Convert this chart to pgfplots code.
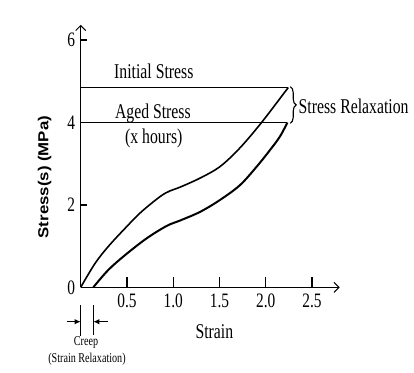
\documentclass[border=0pt]{standalone}
\usepackage{fontspec}
\setmainfont{Liberation Serif}[FakeStretch=0.75]
\newfontfamily\labfont{Liberation Sans}[FakeStretch=1.16]
\usepackage{pgfplots}
\pgfplotsset{compat=1.18}
\usetikzlibrary{arrows.meta,decorations.pathreplacing}

\begin{document}
\begin{tikzpicture}
\begin{axis}[
  x=92.5pt, y=41.2pt,
  xmin=0, xmax=2.8, ymin=0, ymax=6.37,
  axis lines=left,
  clip=false,
  axis line style={line width=1.4pt, -{Straight Barb[length=5pt,width=10pt,line width=1pt]}},
  tick align=inside,
  tick style={line width=1.4pt, black},
  xtick style={/pgfplots/major tick length=10pt},
  ytick style={/pgfplots/major tick length=6pt},
  xtick={0.5,1.0,1.5,2.0,2.5},
  ytick={0,2,4,6},
  /pgf/number format/assume math mode=true,
  xticklabel style={font=\fontsize{20.5}{22}\selectfont, yshift=-3pt,
    /pgf/number format/.cd, fixed, fixed zerofill, precision=1, assume math mode=true},
  yticklabel style={font=\fontsize{20.5}{22}\selectfont, xshift=-2pt},
  xlabel={Strain},
  xlabel style={font=\fontsize{21}{22}\selectfont, at={(axis description cs:0.516,-0.170)}, anchor=center},
  ylabel={Stress(s) (MPa)},
  ylabel style={font=\labfont\bfseries\fontsize{14.5}{16}\selectfont, at={(axis description cs:-0.139,0.42)}, anchor=center},
]
% initial stress curve
\addplot[black, line width=1.6pt, smooth, tension=0.55] coordinates {
(0,0) (0.155,0.58) (0.298,0.99) (0.479,1.43) (0.650,1.82) (0.857,2.20)
(0.965,2.34) (1.073,2.43) (1.290,2.65) (1.506,2.93) (1.720,3.38)
(1.955,4.0) (2.244,4.85)};
% aged curve
\addplot[black, line width=2pt, smooth, tension=0.55] coordinates {
(0.136,0) (0.298,0.42) (0.479,0.78) (0.714,1.19) (0.930,1.49) (1.073,1.62)
(1.290,1.83) (1.506,2.12) (1.722,2.48) (1.903,2.93)
(2.046,3.33) (2.154,3.66) (2.235,4.0)};
% stress levels
\addplot[black, line width=1.1pt] coordinates {(0,4.85) (2.244,4.85)};
\addplot[black, line width=1.1pt] coordinates {(0,4.0) (2.235,4.0)};

\node[font=\fontsize{21}{23}\selectfont] at (axis cs:0.79,5.25) {Initial Stress};
\node[font=\fontsize{21}{23}\selectfont] at (axis cs:0.78,4.22) {Aged Stress};
\node[font=\fontsize{21}{23}\selectfont] at (axis cs:0.79,3.62) {(x hours)};
\draw[black, line width=1.1pt, decorate, decoration={brace, amplitude=6pt}]
  (axis cs:2.265,4.87) -- (axis cs:2.265,3.98);
\node[font=\fontsize{21}{22}\selectfont, anchor=west, inner sep=0pt] at (axis cs:2.355,4.40) {Stress Relaxation};

% creep dimension
\draw[black, line width=0.6pt] (axis cs:0,-0.43) -- (axis cs:0,-1.19);
\draw[black, line width=0.6pt] (axis cs:0.136,-0.43) -- (axis cs:0.136,-1.16);
\draw[black, line width=1.1pt, -{Latex[length=6pt,width=5.5pt]}] (axis cs:-0.151,-0.835) -- (axis cs:0,-0.835);
\draw[black, line width=1.1pt, -{Latex[length=6pt,width=5.5pt]}] (axis cs:0.298,-0.835) -- (axis cs:0.136,-0.835);
\node[font=\fontsize{13.5}{15}\selectfont] at (axis cs:0.057,-1.35) {Creep};
\node[font=\fontsize{13.5}{15}\selectfont] at (axis cs:0.068,-1.74) {(Strain Relaxation)};

\coordinate (O) at (axis cs:0,0);
\end{axis}
\pgfresetboundingbox
\path[use as bounding box] (O) ++(-80.7pt,-84.7pt) rectangle ++(414pt,372pt);
\end{tikzpicture}
\end{document}
